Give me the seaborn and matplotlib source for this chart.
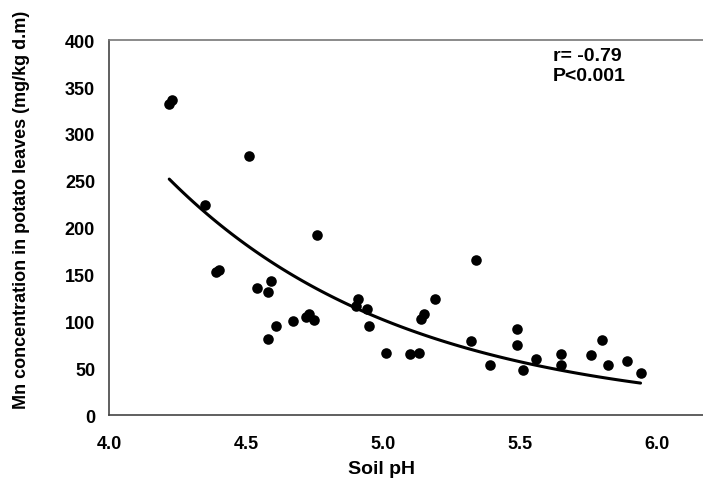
import numpy as np
import pandas as pd
import seaborn as sns
import matplotlib
matplotlib.use("Agg")
import matplotlib.pyplot as plt

# soil pH vs Mn in potato leaves
soil_ph = [4.22, 4.23, 4.35, 4.39, 4.40, 4.51, 4.54, 4.58, 4.59, 4.58,
           4.61, 4.67, 4.72, 4.73, 4.75, 4.76, 4.90, 4.91, 4.94, 4.95,
           5.01, 5.10, 5.13, 5.14, 5.15, 5.19, 5.32, 5.34, 5.39, 5.49,
           5.49, 5.51, 5.56, 5.65, 5.65, 5.76, 5.80, 5.82, 5.89, 5.94]
mn_conc = [332, 336, 224, 153, 155, 276, 136, 131, 143, 81,
           95, 100, 105, 108, 102, 192, 116, 124, 113, 95,
           66, 65, 66, 103, 108, 124, 79, 165, 54, 92,
           75, 48, 60, 65, 54, 64, 80, 53, 58, 45]

# exponential trendline y = a*exp(b*x), coefficients
trend_a = 33800
trend_b = -1.161

x_ticks = [4.0, 4.5, 5.0, 5.5, 6.0]
y_ticks = [0, 50, 100, 150, 200, 250, 300, 350, 400]

df = pd.DataFrame({"pH": soil_ph, "Mn": mn_conc})
fit = pd.DataFrame({"pH": np.linspace(min(soil_ph), max(soil_ph), 100)})
fit["Mn"] = trend_a * np.exp(trend_b * fit["pH"])

sns.set_style("white")
plt.rcParams["font.family"] = ["Liberation Sans", "DejaVu Sans"]
plt.rcParams["font.weight"] = "bold"
plt.rcParams["text.color"] = "black"
plt.rcParams["xtick.color"] = "black"
plt.rcParams["ytick.color"] = "black"

fig = plt.figure(figsize=(7.03, 4.85), dpi=100)
ax = fig.add_axes([0.155, 0.142, 0.845, 0.773])

sns.scatterplot(data=df, x="pH", y="Mn", ax=ax, color="black", s=58,
                edgecolor="black", linewidth=0, zorder=3)
sns.lineplot(data=fit, x="pH", y="Mn", ax=ax, color="black", linewidth=2.2)

ax.set_xlim(4.0, 6.168)
ax.set_ylim(0, 400)
ax.set_xticks(x_ticks)
ax.set_xticklabels([f"{t:.1f}" for t in x_ticks])
ax.set_yticks(y_ticks)
ax.tick_params(axis="both", direction="out", length=5, width=1,
               color="#333333", labelcolor="black", labelsize=13)
ax.tick_params(axis="x", pad=9)
ax.tick_params(axis="y", pad=5)
for lab in ax.get_xticklabels() + ax.get_yticklabels():
    lab.set_fontweight("bold")

for side in ["left", "bottom", "top"]:
    ax.spines[side].set_color("#444444")
    ax.spines[side].set_linewidth(1.2)
ax.spines["top"].set_color("#777777")
ax.spines["right"].set_visible(False)

ax.set_xlabel("")
ax.set_ylabel("")
fig.text(381 / 703, 1 - 470 / 485, "Soil pH", ha="center", va="center",
         fontsize=14, fontweight="bold", color="black")
fig.text(22 / 703, 1 - 210 / 485, "Mn concentration in potato leaves (mg/kg d.m)",
         ha="center", va="center", rotation=90, fontsize=13, fontweight="bold",
         color="black")

ax.text(553 / 703, 1 - 48 / 485, "r= -0.79\nP<0.001", transform=fig.transFigure,
        ha="left", va="top", fontsize=14, fontweight="bold", linespacing=1.25,
        color="black")

fig.savefig("out.png", dpi=100)
